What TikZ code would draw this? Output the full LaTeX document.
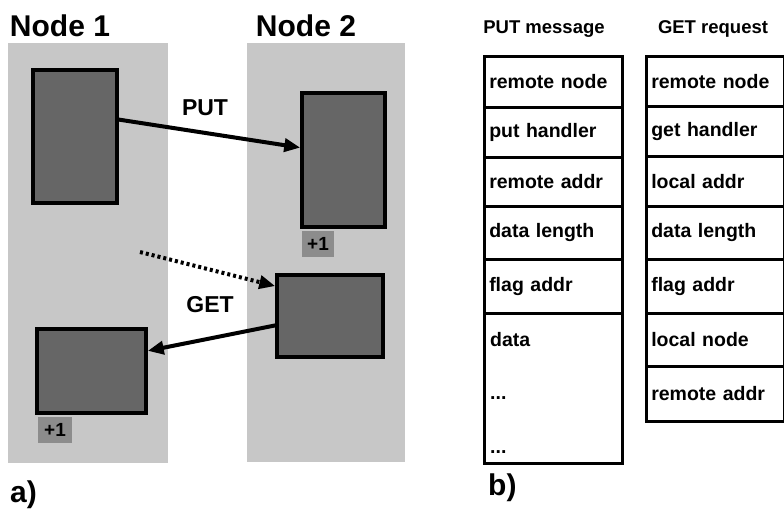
\documentclass[tikz,border=0pt]{standalone}
\usepackage{fontspec}
\setmainfont{Liberation Sans}
\usetikzlibrary{arrows.meta,calc}
\begin{document}
\begin{tikzpicture}[x=1pt,y=-1pt,
  region/.style={fill=black!22,draw=none},
  membox/.style={fill=black!60,draw=black,line width=3.5pt},
  incr/.style={fill=black!45,inner sep=1pt,font=\bfseries\fontsize{19}{19}\selectfont},
  biglabel/.style={font=\bfseries\fontsize{30}{30}\selectfont,inner sep=0pt},
  oplabel/.style={font=\bfseries\fontsize{23}{23}\selectfont,inner sep=0pt},
  headlabel/.style={font=\bfseries\fontsize{18.5}{18.5}\selectfont,inner sep=0pt},
  cell/.style={draw=black,line width=2.5pt,font=\bfseries\fontsize{19.5}{19.5}\selectfont,
    text width=128pt,align=left,inner xsep=5pt,inner ysep=0pt,anchor=north west},
  celltext/.style={font=\bfseries\fontsize{19.5}{19.5}\selectfont,inner sep=0pt,anchor=west},
  bigarrow/.style={line width=4pt,-{Triangle[length=16pt,width=13pt]}},
  dotarrow/.style={line width=4pt,dash pattern=on 3pt off 3pt,-{Triangle[length=16pt,width=13pt]}}
]
\useasboundingbox (0,0) rectangle (784,514);
\fill[white] (0,0) rectangle (784,514);

% ---------- a) ----------
\path[region] (8,43) rectangle (168,463);
\path[region] (247,43) rectangle (405,462);
\node[biglabel] (n1lab) at (60,26) {Node 1};
\node[biglabel] (n2lab) at (306,26) {Node 2};

\node[membox,minimum width=84pt,minimum height=133pt,inner sep=0pt] (A) at (75,136.5) {};
\node[membox,minimum width=83pt,minimum height=134pt,inner sep=0pt] (B) at (343.5,160) {};
\node[membox,minimum width=106pt,minimum height=82pt,inner sep=0pt] (C) at (330,316) {};
\node[membox,minimum width=109pt,minimum height=84pt,inner sep=0pt] (D) at (91.5,371) {};

\node[incr,minimum width=32pt,minimum height=26pt] (incB) at (318,244) {+1};
\node[incr,minimum width=34pt,minimum height=26pt] (incD) at (55,430) {+1};

\node[oplabel] (put) at (205,108) {PUT};
\node[oplabel] (get) at (210,305) {GET};

\draw[bigarrow] ($(A.north east)!0.376!(A.south east)$) -- ($(B.north west)!0.41!(B.south west)$);
\coordinate (dstart) at (140,252);
\draw[dotarrow] (dstart) -- ($(C.north west)!0.15!(C.south west)$);
\draw[bigarrow] ($(C.north west)!0.61!(C.south west)$) -- ($(D.north east)!0.27!(D.south east)$);

\node[biglabel,anchor=west] (alab) at (10,495) {a)};

% ---------- b) ----------
\node[headlabel] (puthead) at (544,29) {PUT message};
\node[headlabel] (gethead) at (713,29) {GET request};

% PUT message table
\node[cell,minimum height=51pt] (p1) at (483,55) {remote node};
\node[cell,minimum height=50pt] (p2) at (483,106) {put handler};
\node[cell,minimum height=49pt] (p3) at (483,156) {remote addr};
\node[cell,minimum height=53pt] (p4) at (483,205) {data length};
\node[cell,minimum height=54pt] (p5) at (483,258) {flag addr};
\node[cell,minimum height=150pt] (p6) at (483,312) {};
\node[celltext] (pd1) at (490,340) {data};
\node[celltext] (pd2) at (490,398) {...};
\node[celltext] (pd3) at (490,452) {...};

% GET request table
\node[cell,minimum height=50pt] (g1) at (645,55) {remote node};
\node[cell,minimum height=50pt] (g2) at (645,105) {get handler};
\node[cell,minimum height=50pt] (g3) at (645,155) {local addr};
\node[cell,minimum height=53pt] (g4) at (645,205) {data length};
\node[cell,minimum height=54pt] (g5) at (645,258) {flag addr};
\node[cell,minimum height=53pt] (g6) at (645,312) {local node};
\node[cell,minimum height=55pt] (g7) at (645,365) {remote addr};

\node[biglabel,anchor=west] (blab) at (488,488) {b)};
\end{tikzpicture}
\end{document}
